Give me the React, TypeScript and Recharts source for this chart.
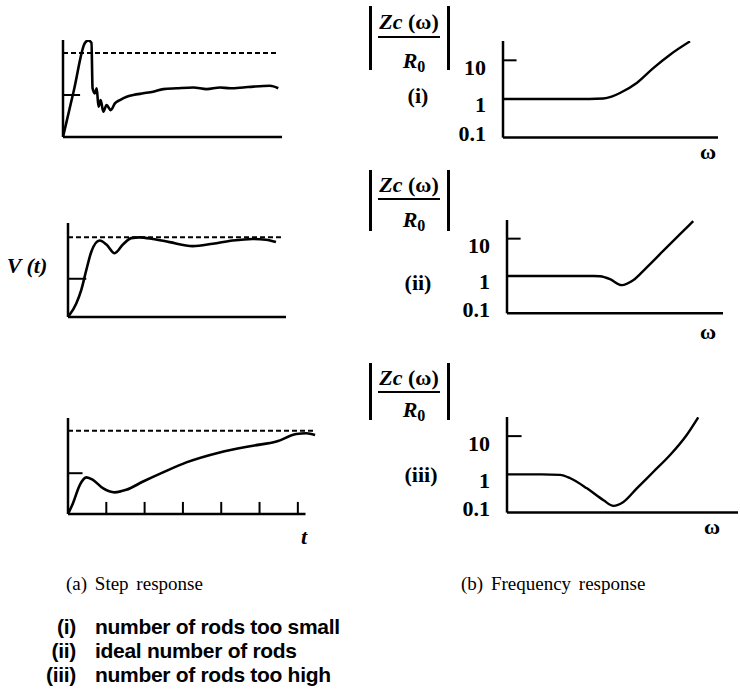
import React from "react";
import { LineChart, Line, XAxis, YAxis, ReferenceLine } from "recharts";

const serif = "'Liberation Serif', 'Times New Roman', serif";
const sans = "'Liberation Sans', Arial, sans-serif";

// (a) step response — t as % of axis length for (i)/(ii), tick units for (iii)
const stepTimeI = [0, 5, 10, 11.6, 13, 13.5, 14.5, 15.4, 16.2, 17.2, 18.4, 19.9, 21.8, 23.7, 26, 29.1, 32.1, 36.7, 41.2, 45.8, 51.9, 59.5, 65.6, 71.7, 76.3, 82.3, 86.9, 94.5, 98.3];
const stepVoltI = [0, 0.56, 1.12, 1.15, 1.12, 0.58, 0.52, 0.58, 0.36, 0.44, 0.3, 0.38, 0.32, 0.4, 0.44, 0.48, 0.5, 0.52, 0.54, 0.57, 0.58, 0.59, 0.57, 0.59, 0.58, 0.59, 0.6, 0.61, 0.58];

const stepTimeII = [0, 3.8, 6.1, 8.4, 10.7, 14.5, 17.6, 21.4, 25.2, 29, 32.8, 38.9, 46.6, 57.2, 66.4, 75.5, 84.7, 90.8, 95.4];
const stepVoltII = [0, 0.17, 0.34, 0.59, 0.82, 0.96, 0.91, 0.8, 0.91, 0.99, 1.0, 0.98, 0.94, 0.89, 0.92, 0.96, 0.98, 0.97, 0.94];

const stepTimeIII = [0, 0.13, 0.31, 0.48, 0.65, 0.91, 1.22, 1.52, 1.96, 2.48, 3.09, 3.96, 4.83, 5.44, 5.96, 6.22, 6.45];
const stepVoltIII = [0, 0.13, 0.35, 0.44, 0.41, 0.31, 0.26, 0.29, 0.39, 0.5, 0.62, 0.74, 0.82, 0.87, 0.96, 0.97, 0.95];
const timeTicksIII = [1, 2, 3, 4, 5, 6];

// (b) frequency response — omega as % of axis length, |Zc/R0| on log scale
const freqOmegaI = [0, 40, 46.7, 50.5, 54.4, 62.2, 69.9, 77.7, 87];
const freqZI = [1, 1, 1.03, 1.15, 1.43, 2.6, 6.3, 14, 31];

const freqOmegaII = [0, 40, 43.1, 47.7, 53.1, 58.4, 64.6, 72.3, 80, 86.2];
const freqZII = [1, 1, 0.98, 0.82, 0.57, 0.77, 1.68, 4.7, 13, 29.5];

const freqOmegaIII = [0, 15, 23, 27.4, 34.6, 41.8, 46.1, 50.4, 56.2, 63.4, 70.6, 77.8, 82.8];
const freqZIII = [1, 1, 0.97, 0.79, 0.43, 0.21, 0.15, 0.19, 0.43, 1.17, 3.2, 10.7, 31];

const freqTicks = [0.1, 1, 10];
const caseTags = ["(i)", "(ii)", "(iii)"];
const caseNotes = ["number of rods too small", "ideal number of rods", "number of rods too high"];

const zip = (xs: number[], ys: number[], xk: string, yk: string) =>
  xs.map((x, i) => ({ [xk]: x, [yk]: ys[i] }));

const PAD = 6;
const INK = "#000";

function StepPanel({ left, top, width, height, data, tMax, vMax, dashEnd, axisEnd, halfEnd, halfLevel, ticks = [] }: any) {
  return (
    <div style={{ position: "absolute", left: left - PAD, top: top - PAD }}>
      <LineChart width={width + 2 * PAD} height={height + 2 * PAD} data={data} margin={{ top: PAD, right: PAD, bottom: PAD, left: PAD }}>
        <XAxis type="number" dataKey="t" domain={[0, tMax]} hide allowDataOverflow />
        <YAxis type="number" domain={[0, vMax]} hide allowDataOverflow />
        <ReferenceLine segment={[{ x: 0, y: 0 }, { x: 0, y: vMax }]} stroke={INK} strokeWidth={2.5} ifOverflow="visible" />
        <ReferenceLine segment={[{ x: 0, y: 0 }, { x: axisEnd, y: 0 }]} stroke={INK} strokeWidth={2.5} ifOverflow="visible" />
        <ReferenceLine segment={[{ x: 0, y: 1 }, { x: dashEnd, y: 1 }]} stroke={INK} strokeWidth={2} strokeDasharray="5 3" ifOverflow="visible" />
        <ReferenceLine segment={[{ x: 0, y: halfLevel }, { x: halfEnd, y: halfLevel }]} stroke={INK} strokeWidth={2} ifOverflow="visible" />
        {ticks.map((k: number) => (
          <ReferenceLine key={k} segment={[{ x: k, y: 0 }, { x: k, y: 0.145 }]} stroke={INK} strokeWidth={2} ifOverflow="visible" />
        ))}
        <Line type="monotone" dataKey="v" stroke={INK} strokeWidth={2.6} dot={false} isAnimationActive={false} />
      </LineChart>
    </div>
  );
}

const renderFreqTick = (props: any) => {
  const { x, y, payload } = props;
  const dy = payload.value === 0.1 ? -4 : payload.value === 1 ? 6 : 7;
  return (
    <text x={x - 9} y={y + dy} textAnchor="end" dominantBaseline="central" fontFamily={serif} fontWeight="bold" fontSize={22} fill={INK}>
      {String(payload.value)}
    </text>
  );
};

const Y_W = 60;
const F_BOTTOM = 18;

function FreqPanel({ left, top, width, height, data }: any) {
  return (
    <div style={{ position: "absolute", left: left - Y_W, top: top - PAD }}>
      <LineChart width={width + Y_W + 2} height={height + PAD + F_BOTTOM} data={data} margin={{ top: PAD, right: 2, bottom: F_BOTTOM, left: 0 }}>
        <XAxis type="number" dataKey="w" domain={[0, 100]} hide allowDataOverflow />
        <YAxis
          type="number"
          scale="log"
          domain={[0.1, 31.62]}
          ticks={freqTicks}
          interval={0}
          width={Y_W}
          axisLine={{ stroke: INK, strokeWidth: 2.5 }}
          tickLine={false}
          tick={renderFreqTick}
          allowDataOverflow
        />
        <ReferenceLine y={0.1} stroke={INK} strokeWidth={2.5} ifOverflow="visible" />
        <ReferenceLine segment={[{ x: 0, y: 10 }, { x: 6.3, y: 10 }]} stroke={INK} strokeWidth={2} ifOverflow="visible" />
        <Line type="monotone" dataKey="z" stroke={INK} strokeWidth={2.4} dot={false} isAnimationActive={false} />
      </LineChart>
    </div>
  );
}

const txt = (extra: React.CSSProperties): React.CSSProperties => ({
  position: "absolute",
  transform: "translate(-50%, -50%)",
  lineHeight: 1,
  whiteSpace: "nowrap",
  fontFamily: serif,
  fontWeight: "bold",
  fontSize: 22,
  color: INK,
  ...extra,
});

function ImpedanceLabel({ textY, lineY, rY, barTop, barBottom }: any) {
  return (
    <>
      <div style={{ position: "absolute", left: 369, top: barTop, width: 2.5, height: barBottom - barTop, background: INK }} />
      <div style={{ position: "absolute", left: 447, top: barTop, width: 2.5, height: barBottom - barTop, background: INK }} />
      <div style={txt({ left: 409, top: textY })}>
        <span style={{ fontStyle: "italic" }}>Zc</span> (ω)
      </div>
      <div style={{ position: "absolute", left: 378, top: lineY, width: 62, height: 2, background: INK }} />
      <div style={txt({ left: 414, top: rY })}>
        <span style={{ fontStyle: "italic" }}>R</span>
        <span style={{ fontSize: 16, position: "relative", top: 4 }}>0</span>
      </div>
    </>
  );
}

export default function App() {
  const s1 = zip(stepTimeI, stepVoltI, "t", "v");
  const s2 = zip(stepTimeII, stepVoltII, "t", "v");
  const s3 = zip(stepTimeIII, stepVoltIII, "t", "v");
  const f1 = zip(freqOmegaI, freqZI, "w", "z");
  const f2 = zip(freqOmegaII, freqZII, "w", "z");
  const f3 = zip(freqOmegaIII, freqZIII, "w", "z");

  return (
    <div style={{ position: "absolute", left: 0, top: 0, width: 740, height: 693, background: "#fff", overflow: "hidden" }}>
      <StepPanel left={63} top={40} width={219} height={97} data={s1} tMax={100} vMax={1.155} dashEnd={98.2} axisEnd={100} halfEnd={7.8} halfLevel={0.5} />
      <StepPanel left={68} top={223} width={218} height={94} data={s2} tMax={100} vMax={1.18} dashEnd={97.7} axisEnd={100} halfEnd={8.4} halfLevel={0.48} />
      <StepPanel left={68} top={418} width={249} height={96} data={s3} tMax={6.5} vMax={1.153} dashEnd={6.44} axisEnd={6.2} halfEnd={0.38} halfLevel={0.49} ticks={timeTicksIII} />

      <div style={txt({ left: 27, top: 266, fontStyle: "italic" })}>V (t)</div>
      <div style={txt({ left: 304, top: 537, fontStyle: "italic" })}>t</div>

      <FreqPanel left={503} top={40.7} width={215} height={96.6} data={f1} />
      <FreqPanel left={507} top={220} width={216} height={93.3} data={f2} />
      <FreqPanel left={507} top={416.7} width={231} height={95.6} data={f3} />

      <ImpedanceLabel textY={22} lineY={36} rY={61} barTop={6} barBottom={70} />
      <ImpedanceLabel textY={185} lineY={198} rY={220} barTop={170} barBottom={231} />
      <ImpedanceLabel textY={378} lineY={391} rY={410} barTop={363} barBottom={420} />

      <div style={txt({ left: 418, top: 96 })}>{caseTags[0]}</div>
      <div style={txt({ left: 418, top: 283 })}>{caseTags[1]}</div>
      <div style={txt({ left: 421, top: 475 })}>{caseTags[2]}</div>

      <div style={txt({ left: 708, top: 152 })}>ω</div>
      <div style={txt({ left: 708, top: 332 })}>ω</div>
      <div style={txt({ left: 712, top: 527 })}>ω</div>

      <div style={{ position: "absolute", left: 66, top: 574, fontFamily: serif, fontSize: 19, wordSpacing: 3, lineHeight: 1, whiteSpace: "nowrap" }}>
        (a) Step response
      </div>
      <div style={{ position: "absolute", left: 461, top: 574, fontFamily: serif, fontSize: 19, wordSpacing: 3, lineHeight: 1, whiteSpace: "nowrap" }}>
        (b) Frequency response
      </div>

      {caseNotes.map((note, i) => (
        <div key={note} style={{ position: "absolute", left: 0, top: 616 + i * 24, width: 400, fontFamily: sans, fontWeight: "bold", fontSize: 21, lineHeight: 1, whiteSpace: "nowrap", letterSpacing: -0.3 }}>
          <span style={{ display: "inline-block", width: 76, textAlign: "right" }}>{caseTags[i]}</span>
          <span style={{ position: "absolute", left: 95 }}>{note}</span>
        </div>
      ))}
    </div>
  );
}
